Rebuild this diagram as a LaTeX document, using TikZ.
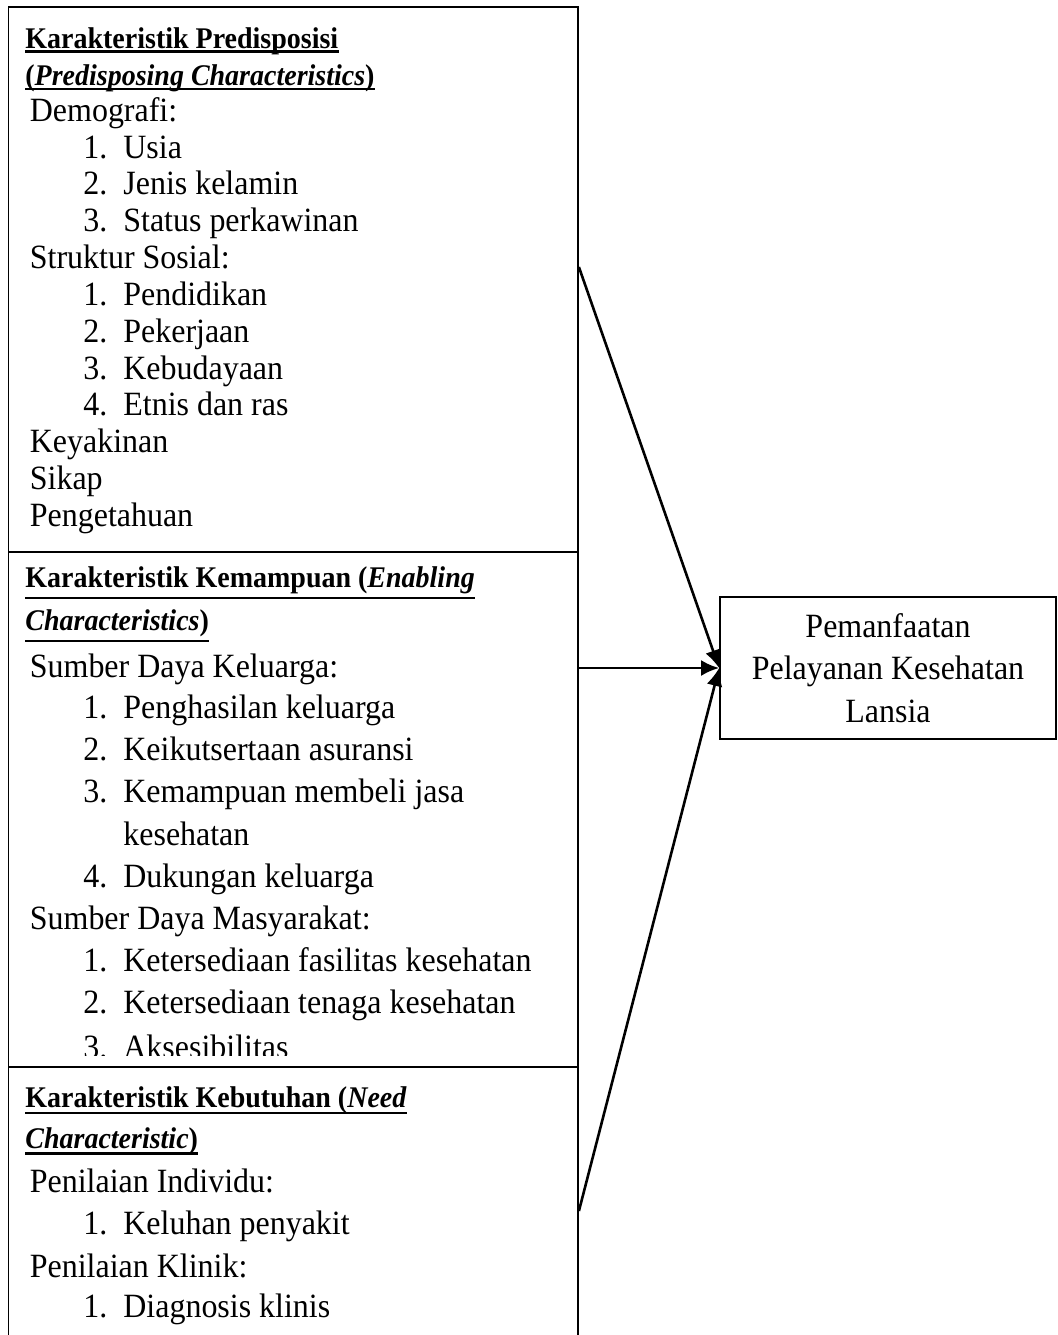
\documentclass[tikz,border=0pt]{standalone}
\usepackage{fontspec}
\setmainfont{Liberation Serif}[FakeStretch=0.94]
\newfontfamily\headfont{Liberation Serif}[FakeStretch=0.933]
\usetikzlibrary{fit,arrows.meta}
\begin{document}
\begin{tikzpicture}[x=0.5pt,y=-0.5pt,
  frame/.style={draw, line width=0.9pt, inner sep=0pt},
  body/.style={anchor=base west, inner sep=0pt, font=\fontsize{17pt}{20pt}\selectfont},
  head/.style={anchor=base west, inner sep=0pt, font=\fontsize{15pt}{18pt}\headfont\bfseries},
  ul/.style={line width=1.4pt},
  arr/.style={line width=1.3pt, -{Latex[length=9pt,width=8pt]}}]
\useasboundingbox (0,0) rectangle (1057,1335);
\begin{scope}
\clip (0,0) rectangle (1057,1335);

% frames
\node[frame, fit={(8.5,7)(578,552)}] (pre) {};
\node[frame, fit={(8.5,552)(578,1067)}] (ena) {};
\node[frame, fit={(8.5,1067)(578,1355)}] (need) {};
\node[frame, minimum width=168pt, minimum height=71pt, align=center,
      font=\fontsize{17pt}{21.25pt}\selectfont] (out) at (888,668)
      {Pemanfaatan\\Pelayanan Kesehatan\\Lansia};

% box 1
\node[head] (a0) at (25,48) {Karakteristik Predisposisi};
\node[head] (a1) at (25,85) {(\textit{Predisposing Characteristics})};
\node[body] (a2) at (29.5,121) {Demografi:};
\node[body] (a3n) at (83,158) {1.};  \node[body] (a3) at (123,158) {Usia};
\node[body] (a4n) at (83,194.5) {2.}; \node[body] (a4) at (123,194.5) {Jenis kelamin};
\node[body] (a5n) at (83,231) {3.};  \node[body] (a5) at (123,231) {Status perkawinan};
\node[body] (a6) at (29.5,268) {Struktur Sosial:};
\node[body] (a7n) at (83,305) {1.};  \node[body] (a7) at (123,305) {Pendidikan};
\node[body] (a8n) at (83,342) {2.};  \node[body] (a8) at (123,342) {Pekerjaan};
\node[body] (a9n) at (83,379) {3.};  \node[body] (a9) at (123,379) {Kebudayaan};
\node[body] (a10n) at (83,415.5) {4.}; \node[body] (a10) at (123,415.5) {Etnis dan ras};
\node[body] (a11) at (29.5,452.5) {Keyakinan};
\node[body] (a12) at (29.5,489) {Sikap};
\node[body] (a13) at (29.5,526) {Pengetahuan};
\draw[ul] ([yshift=-1.75pt]a0.base west) -- ([yshift=-1.75pt]a0.base east);
\draw[ul] ([yshift=-2pt]a1.base west) -- ([yshift=-2pt]a1.base east);

% box 2
\node[head] (b0) at (25,587) {Karakteristik Kemampuan (\textit{Enabling}};
\node[head] (b1) at (25,630) {\textit{Characteristics})};
\node[body] (b2) at (29.5,677) {Sumber Daya Keluarga:};
\node[body] (b3n) at (83,718) {1.};  \node[body] (b3) at (123,718) {Penghasilan keluarga};
\node[body] (b4n) at (83,760) {2.};  \node[body] (b4) at (123,760) {Keikutsertaan asuransi};
\node[body] (b5n) at (83,802) {3.};  \node[body] (b5) at (123,802) {Kemampuan membeli jasa};
\node[body] (b6) at (123,845) {kesehatan};
\node[body] (b7n) at (83,887) {4.};  \node[body] (b7) at (123,887) {Dukungan keluarga};
\node[body] (b8) at (29.5,929) {Sumber Daya Masyarakat:};
\node[body] (b9n) at (83,971) {1.};  \node[body] (b9) at (123,971) {Ketersediaan fasilitas kesehatan};
\node[body] (b10n) at (83,1013) {2.}; \node[body] (b10) at (123,1013) {Ketersediaan tenaga kesehatan};
\begin{scope}
\clip (0,0) rectangle (1057,1055.5);
\node[body] (b11n) at (83,1058) {3.}; \node[body] (b11) at (123,1058) {Aksesibilitas};
\end{scope}
\draw[ul] ([yshift=-5.5pt]b0.base west) -- ([yshift=-5.5pt]b0.base east);
\draw[ul] ([yshift=-5.5pt]b1.base west) -- ([yshift=-5.5pt]b1.base east);

% box 3
\node[head] (c0) at (25,1107) {Karakteristik Kebutuhan (\textit{Need}};
\node[head] (c1) at (25,1148) {\textit{Characteristic})};
\node[body] (c2) at (29.5,1192) {Penilaian Individu:};
\node[body] (c3n) at (83,1234) {1.}; \node[body] (c3) at (123,1234) {Keluhan penyakit};
\node[body] (c4) at (29.5,1277) {Penilaian Klinik:};
\node[body] (c5n) at (83,1317) {1.}; \node[body] (c5) at (123,1317) {Diagnosis klinis};
\draw[ul] ([yshift=-3pt]c0.base west) -- ([yshift=-3pt]c0.base east);
\draw[ul] ([yshift=-2.75pt]c1.base west) -- ([yshift=-2.75pt]c1.base east);

% connectors
\draw[arr] ([yshift=6.25pt]pre.east) -- (out.west);
\draw[arr] (ena.east |- out.west) -- (out.west);
\draw[arr] (need.east) -- (out.west);
\end{scope}
\end{tikzpicture}
\end{document}
